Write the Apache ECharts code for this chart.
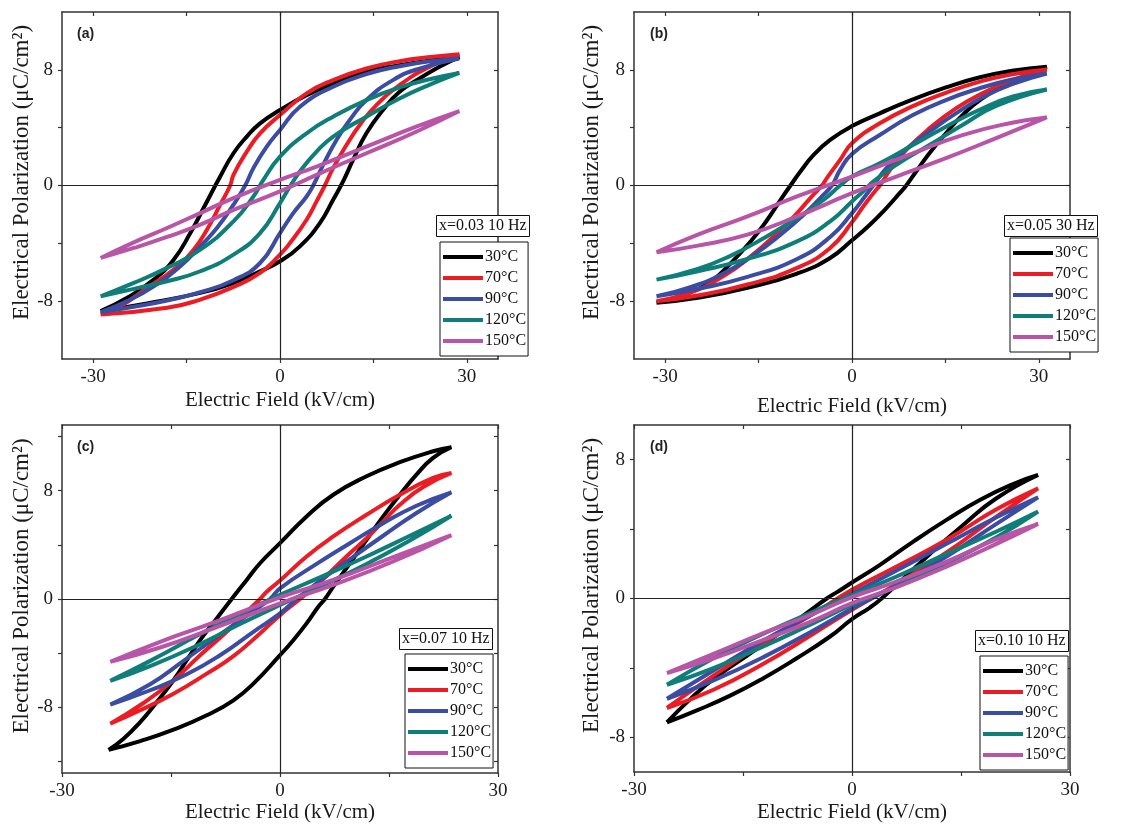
<!DOCTYPE html>
<html>
<head>
<meta charset="utf-8">
<script src="https://cdn.jsdelivr.net/npm/echarts@6/dist/echarts.min.js"></script>
<style>
html,body{margin:0;padding:0;background:#fff;}
#chart{width:1126px;height:825px;}
</style>
</head>
<body>
<div id="chart"></div>
<script>
// ---------- data (E in kV/cm, P in µC/cm²), each loop: ascending branch then descending branch ----------
const temps = ['30°C', '70°C', '90°C', '120°C', '150°C'];
const panelLabels = ['(a)', '(b)', '(c)', '(d)'];
const panelNotes = ['x=0.03 10 Hz', 'x=0.05 30 Hz', 'x=0.07 10 Hz', 'x=0.10 10 Hz'];
const xTicks = [-30, -15, 0, 15, 30];
const xTickLabels = [-30, 0, 30];
const yTicksAB = [-8, -4, 0, 4, 8];
const yTicksC = [-12, -8, -4, 0, 4, 8, 12];
const yTicksD = [-8, -4, 0, 4, 8];
const yTickLabels = [-8, 0, 8];

// panel (a)
const a30 = [[-28.8,-8.69],[-21.33,-8.16],[-12.8,-7.43],[-7.47,-6.74],[-3.2,-5.93],[0,-5.24],[3.2,-4.21],[6.4,-2.6],[8.53,-0.99],[10.13,0.28],[11.73,1.77],[13.87,3.61],[16.53,5.22],[19.2,6.48],[22.4,7.4],[25.6,8.21],[28.8,8.9],
  [24.53,8.67],[19.2,8.32],[13.87,7.86],[8.53,7.06],[4.27,6.25],[0,5.22],[-3.2,4.3],[-5.33,3.38],[-7.47,2.23],[-9.6,0.62],[-12.27,-1.56],[-14.4,-3.29],[-17.07,-5.13],[-20.27,-6.51],[-24.53,-7.77],[-28.8,-8.69]];
const a70 = [[-28.8,-8.92],[-18.13,-8.46],[-12.8,-7.89],[-7.47,-7.01],[-3.2,-6.05],[0,-4.78],[1.6,-3.98],[4.27,-2.37],[5.87,-1.1],[7.2,0],[8.53,1.2],[10.67,2.8],[12.8,4.18],[15.47,5.56],[19.2,6.94],[23.47,8.09],[28.8,9.08],
  [24.53,8.9],[19.2,8.6],[13.87,8.09],[8.53,7.29],[4.27,6.37],[0,4.87],[-3.2,3.61],[-5.33,2.34],[-7.47,0.74],[-8.0,0],[-9.6,-1.33],[-11.73,-3.06],[-13.87,-4.44],[-17.07,-5.82],[-21.33,-7.08],[-25.6,-8.34],[-28.8,-8.92]];
const a90 = [[-28.8,-8.76],[-23.47,-8.39],[-18.13,-7.95],[-12.8,-7.38],[-7.47,-6.55],[-3.2,-5.36],[0,-3.29],[2.13,-1.91],[4.27,-0.76],[5.33,0],[6.93,1.43],[9.07,3.15],[11.2,4.53],[13.87,5.91],[18.13,7.29],[22.4,8.09],[28.8,8.78],
  [24.53,8.62],[19.2,8.25],[13.87,7.7],[8.53,6.83],[3.2,5.45],[0,3.84],[-2.13,2.69],[-4.27,1.2],[-5.6,0],[-7.47,-1.33],[-10.13,-2.94],[-12.8,-4.21],[-16.0,-5.59],[-20.27,-6.97],[-24.53,-8.0],[-28.8,-8.76]];
const a120 = [[-28.8,-7.66],[-23.47,-7.15],[-18.13,-6.62],[-12.8,-5.93],[-7.47,-4.78],[-3.2,-3.29],[0,-1.22],[1.6,-0.07],[3.2,0.97],[5.87,2.34],[8.53,3.38],[13.87,4.76],[19.2,6.02],[24.53,7.06],[28.8,7.79],
  [24.53,7.4],[19.2,6.78],[13.87,5.91],[8.53,4.76],[4.27,3.61],[0,2.0],[-2.67,0.39],[-4.27,-0.76],[-7.47,-2.48],[-12.8,-4.44],[-18.13,-5.7],[-23.47,-6.74],[-28.8,-7.66]];
const a150 = [[-28.8,-5.01],[-23.47,-4.32],[-18.13,-3.56],[-12.8,-2.71],[-7.47,-1.68],[0,-0.41],[5.87,0.74],[13.87,2.23],[21.87,3.72],[28.8,5.15],
  [21.87,4.07],[13.87,2.69],[5.87,1.31],[0,0.39],[-7.47,-0.87],[-12.8,-1.91],[-18.13,-2.94],[-23.47,-3.93],[-28.8,-5.01]];

// panel (b)
const b30 = [[-31.39,-8.11],[-24.75,-7.77],[-16.78,-7.08],[-8.82,-6.09],[-3.51,-5.01],[0,-3.79],[2.87,-2.71],[5.52,-1.56],[7.65,-0.53],[8.71,0],[10.3,0.97],[12.43,2.23],[15.08,3.61],[17.74,4.87],[20.92,6.02],[24.64,6.94],[28.36,7.7],[31.28,8.21],
  [25.7,7.93],[20.39,7.47],[15.08,6.78],[9.77,5.95],[4.46,4.99],[0,4.11],[-3.51,3.15],[-6.16,2.11],[-8.28,0.97],[-9.88,0],[-11.47,-0.99],[-13.6,-2.37],[-16.25,-3.86],[-19.44,-5.36],[-22.62,-6.62],[-26.87,-7.54],[-31.39,-8.11]];
const b70 = [[-31.39,-8.0],[-24.75,-7.61],[-16.78,-6.85],[-8.82,-5.7],[-3.51,-4.32],[0,-2.55],[1.81,-1.45],[3.66,-0.41],[4.46,0],[6.32,1.2],[8.71,2.46],[12.43,3.95],[16.68,5.33],[20.92,6.37],[25.7,7.29],[31.28,8.02],
  [25.7,7.7],[20.39,7.17],[15.08,6.41],[9.77,5.49],[4.46,4.3],[0,2.92],[-1.91,1.77],[-4.04,0.51],[-4.83,0],[-6.69,-0.87],[-8.82,-1.91],[-12.0,-3.29],[-16.25,-4.9],[-20.5,-6.23],[-25.81,-7.38],[-31.39,-8.0]];
const b90 = [[-31.39,-7.66],[-24.75,-7.15],[-16.78,-6.32],[-8.82,-5.08],[-3.51,-3.56],[0,-1.91],[2.07,-0.76],[3.4,0],[5.52,1.2],[8.18,2.34],[12.43,3.72],[16.68,4.99],[20.92,6.09],[25.7,7.01],[31.28,7.75],
  [25.7,7.33],[20.39,6.71],[15.08,5.91],[9.77,4.87],[4.46,3.49],[0,2.18],[-1.91,1.08],[-3.24,0],[-5.1,-0.87],[-7.75,-2.02],[-11.47,-3.4],[-15.72,-4.78],[-20.5,-6.05],[-25.81,-7.01],[-31.39,-7.66]];
const b120 = [[-31.39,-6.51],[-24.75,-5.93],[-16.78,-5.08],[-8.82,-3.86],[-3.51,-2.48],[0,-1.1],[2.07,-0.3],[3.4,0.28],[7.12,1.43],[12.43,2.8],[17.74,4.18],[23.05,5.49],[31.28,6.64],
  [25.7,6.14],[20.39,5.22],[15.08,4.07],[9.77,2.8],[4.46,1.54],[0,0.62],[-1.91,0],[-4.57,-0.99],[-8.82,-2.25],[-14.13,-3.63],[-19.44,-4.85],[-24.75,-5.77],[-31.39,-6.51]];
const b150 = [[-31.39,-4.62],[-24.75,-4.16],[-16.78,-3.4],[-8.82,-2.14],[0,-0.53],[7.12,0.62],[15.08,1.89],[23.05,3.26],[31.28,4.71],
  [25.7,4.34],[17.74,3.49],[9.77,2.23],[0,0.62],[-8.82,-0.76],[-16.78,-2.14],[-24.75,-3.4],[-31.39,-4.62]];

// panel (c)
const c30 = [[-23.59,-11.14],[-19.24,-10.49],[-14.66,-9.65],[-10.08,-8.59],[-6.41,-7.48],[-3.66,-6.25],[0,-4.15],[1.83,-3.04],[3.66,-1.8],[5.27,-0.57],[6.18,0],[7.33,0.91],[9.62,2.64],[11.91,4.37],[14.2,6.1],[16.49,7.7],[18.78,9.19],[21.07,10.42],[23.59,11.21],
  [21.07,10.91],[16.49,10.1],[11.91,9.06],[7.33,7.7],[3.66,6.1],[0,4.12],[-2.75,2.64],[-4.58,1.41],[-6.41,0.17],[-8.7,-1.43],[-10.99,-3.04],[-12.83,-4.52],[-14.66,-6.0],[-16.95,-7.6],[-19.24,-9.09],[-21.53,-10.32],[-23.59,-11.14]];
const c70 = [[-23.36,-9.21],[-19.24,-8.22],[-14.66,-6.99],[-10.08,-5.51],[-6.41,-4.22],[-2.75,-2.54],[0,-1.19],[2.75,0],[5.04,1.04],[7.33,2.2],[9.62,3.38],[11.91,4.49],[14.2,5.73],[16.49,6.96],[19.7,8.27],[23.59,9.31],
  [21.07,8.94],[16.49,7.7],[11.91,6.22],[7.33,4.62],[3.66,3.14],[0,1.36],[-1.83,0.54],[-2.75,0],[-4.58,-0.94],[-7.33,-2.42],[-10.99,-4.15],[-14.66,-6.0],[-18.78,-7.68],[-23.36,-9.21]];
const c90 = [[-23.36,-7.8],[-17.87,-6.74],[-12.83,-5.56],[-8.25,-4.15],[-3.66,-2.42],[0,-1.06],[2.29,0],[5.04,1.16],[9.62,2.94],[14.2,4.67],[18.78,6.35],[23.59,7.88],
  [18.78,6.89],[14.2,5.6],[9.62,4.12],[5.04,2.59],[0,0.79],[-1.37,0],[-4.12,-1.06],[-8.7,-2.79],[-13.28,-4.57],[-17.87,-6.3],[-23.36,-7.8]];
const c120 = [[-23.36,-6.05],[-17.87,-4.96],[-10.99,-3.33],[-5.5,-1.85],[0,-0.44],[5.5,0.91],[11.91,2.59],[17.87,4.32],[23.59,6.15],
  [17.87,4.67],[11.91,3.14],[5.5,1.6],[0,0.3],[-5.5,-1.11],[-10.99,-2.59],[-17.87,-4.57],[-23.36,-6.05]];
const c150 = [[-23.36,-4.64],[-16.49,-3.58],[-9.16,-2.17],[0,-0.32],[7.33,1.04],[15.57,2.77],[23.59,4.72],
  [15.57,3.09],[7.33,1.41],[0,0.12],[-9.16,-1.75],[-16.49,-3.16],[-23.36,-4.64]];

// panel (d)
const d30 = [[-25.47,-7.14],[-21.35,-6.45],[-16.77,-5.6],[-12.19,-4.59],[-7.6,-3.44],[-3.02,-2.19],[0,-1.19],[2.47,-0.52],[4.08,0],[6.14,0.79],[10.72,2.57],[15.3,4.24],[19.88,5.78],[25.61,7.12],
  [22.17,6.6],[17.59,5.68],[13.01,4.53],[8.43,3.28],[3.85,1.94],[0,0.92],[-2.11,0.35],[-3.48,0],[-6.23,-0.84],[-9.89,-1.96],[-14.48,-3.3],[-19.06,-4.64],[-22.26,-5.8],[-25.47,-7.14]];
const d70 = [[-25.47,-6.31],[-19.06,-5.26],[-12.19,-3.76],[-5.31,-2.03],[0,-0.65],[6.14,0.84],[13.01,2.65],[19.88,4.72],[25.61,6.35],
  [19.88,5.14],[13.01,3.38],[6.14,1.84],[0,0.5],[-5.31,-0.88],[-12.19,-2.57],[-19.06,-4.45],[-25.47,-6.31]];
const d90 = [[-25.47,-5.78],[-19.06,-4.72],[-12.19,-3.38],[-5.31,-1.84],[0,-0.58],[6.14,0.77],[13.01,2.42],[19.88,4.3],[25.61,5.83],
  [19.88,4.68],[13.01,3.15],[6.14,1.61],[0,0.27],[-5.31,-0.88],[-12.19,-2.42],[-19.06,-4.15],[-25.47,-5.78]];
const d120 = [[-25.47,-4.97],[-19.06,-4.01],[-12.19,-2.76],[-5.31,-1.42],[0,-0.36],[6.14,0.69],[13.01,2.03],[19.88,3.53],[25.61,5.01],
  [19.88,3.86],[13.01,2.57],[6.14,1.27],[0,0.19],[-5.31,-0.75],[-12.19,-2.03],[-19.06,-3.44],[-25.47,-4.97]];
const d150 = [[-25.47,-4.3],[-19.06,-3.45],[-12.19,-2.38],[-5.31,-1.27],[0,-0.27],[6.14,0.65],[13.01,1.84],[19.88,3.15],[25.61,4.3],
  [19.88,3.42],[13.01,2.13],[6.14,0.98],[0,0.08],[-5.31,-0.88],[-12.19,-2.0],[-19.06,-3.19],[-25.47,-4.3]];

// ---------- styling / layout ----------
const colors = ['#000000', '#ec1c24', '#3b4ca3', '#0f7e78', '#b955a7'];
const SERIF = 'Liberation Serif';
const panelData = [[a30,a70,a90,a120,a150],[b30,b70,b90,b120,b150],[c30,c70,c90,c120,c150],[d30,d70,d90,d120,d150]];
const layout = [
  {grid:{left:62, top:12, width:436, height:347}, x:[-35,35], y:[-12,12], yt:yTicksAB, xGap:31, yGap:25,
   label:{left:77, top:27}, note:{left:436, top:215}, legend:{left:440, top:242}},
  {grid:{left:634, top:12, width:436, height:347}, x:[-35,35], y:[-12,12], yt:yTicksAB, xGap:37, yGap:31,
   label:{left:650, top:27}, note:{left:1004, top:215}, legend:{left:1010, top:238}},
  {grid:{left:62, top:425, width:436, height:348}, x:[-30,30], y:[-12.85,12.85], yt:yTicksC, xGap:28, yGap:23,
   label:{left:77, top:440}, note:{left:399, top:628}, legend:{left:405, top:654}},
  {grid:{left:634, top:425, width:436, height:347}, x:[-30,30], y:[-10,10], yt:yTicksD, xGap:30, yGap:31,
   label:{left:650, top:440}, note:{left:975, top:630}, legend:{left:980, top:656}}
];

const frameLine = {show:true, lineStyle:{color:'#333', width:1.5}};
const grids = [], xAxes = [], yAxes = [], series = [], titles = [], legends = [];

layout.forEach((L, g) => {
  grids.push(Object.assign({containLabel:false}, L.grid));
  xAxes.push({type:'value', gridIndex:g, position:'bottom', min:L.x[0], max:L.x[1],
    name:'Electric Field (kV/cm)', nameLocation:'middle', nameGap:L.xGap,
    nameTextStyle:{fontFamily:SERIF, fontSize:21, color:'#1a1a1a'},
    axisLine:Object.assign({onZero:false}, frameLine),
    axisTick:{show:true, inside:false, length:4, customValues:xTicks, lineStyle:{color:'#333', width:1.2}},
    axisLabel:{show:true, customValues:xTickLabels, margin:9, fontFamily:SERIF, fontSize:19, color:'#1a1a1a'},
    splitLine:{show:false}});
  xAxes.push({type:'value', gridIndex:g, position:'top', min:L.x[0], max:L.x[1],
    axisLine:Object.assign({onZero:false}, frameLine),
    axisTick:{show:true, inside:true, length:4, customValues:xTicks, lineStyle:{color:'#333', width:1.2}},
    axisLabel:{show:false}, splitLine:{show:false}});
  yAxes.push({type:'value', gridIndex:g, position:'left', min:L.y[0], max:L.y[1],
    name:'Electrical Polarization (μC/cm²)', nameLocation:'middle', nameGap:L.yGap, nameRotate:90,
    nameTextStyle:{fontFamily:SERIF, fontSize:23, color:'#1a1a1a', padding:[0,0,0,26]},
    axisLine:Object.assign({onZero:false}, frameLine),
    axisTick:{show:true, inside:false, length:4, customValues:L.yt, lineStyle:{color:'#333', width:1.2}},
    axisLabel:{show:true, customValues:yTickLabels, margin:9, fontFamily:SERIF, fontSize:19, color:'#1a1a1a'},
    splitLine:{show:false}});
  yAxes.push({type:'value', gridIndex:g, position:'right', min:L.y[0], max:L.y[1],
    axisLine:Object.assign({onZero:false}, frameLine),
    axisTick:{show:true, inside:true, length:4, customValues:L.yt, lineStyle:{color:'#333', width:1.2}},
    axisLabel:{show:false}, splitLine:{show:false}});

  series.push({type:'line', name:'zero'+g, xAxisIndex:2*g, yAxisIndex:2*g, data:[[0,0]], showSymbol:false,
    lineStyle:{opacity:0}, z:1, silent:true, animation:false,
    markLine:{symbol:'none', silent:true, animation:false, label:{show:false},
      lineStyle:{color:'#222', width:1.2, type:'solid'}, emphasis:{disabled:true},
      data:[{xAxis:0},{yAxis:0}]}});

  panelData[g].forEach((arr, i) => {
    series.push({type:'line', name:temps[i], xAxisIndex:2*g, yAxisIndex:2*g, data:arr,
      showSymbol:false, smooth:0.5, z:2 + i, color:colors[i],
      lineStyle:{width:4, color:colors[i]}, emphasis:{disabled:true}});
  });

  titles.push({text:panelLabels[g], left:L.label.left, top:L.label.top, padding:0,
    textStyle:{fontFamily:'Liberation Sans', fontWeight:'bold', fontSize:14, color:'#222'}});
  titles.push({text:panelNotes[g], left:L.note.left, top:L.note.top, padding:[2,3,2,3],
    borderColor:'#111', borderWidth:1, backgroundColor:'#fff',
    textStyle:{fontFamily:SERIF, fontWeight:'normal', fontSize:16, lineHeight:18, color:'#111'}});
  legends.push({data:temps, orient:'vertical', left:L.legend.left, top:L.legend.top,
    icon:'rect', itemWidth:40, itemHeight:4, itemGap:5, padding:[7,2,7,3],
    borderColor:'#111', borderWidth:1, backgroundColor:'#fff', selectedMode:false,
    textStyle:{fontFamily:SERIF, fontSize:16, color:'#111', padding:[0,0,0,-3]}});
});

const chart = echarts.init(document.getElementById('chart'), null, {renderer:'canvas'});
chart.setOption({
  animation:false,
  backgroundColor:'#fff',
  title:titles,
  legend:legends,
  grid:grids,
  xAxis:xAxes,
  yAxis:yAxes,
  series:series
});
</script>
</body>
</html>
